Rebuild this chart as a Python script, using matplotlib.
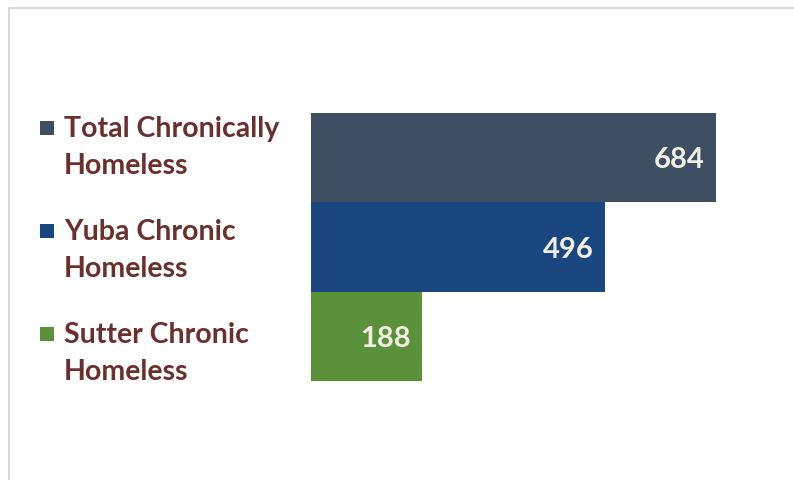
import matplotlib
matplotlib.use("Agg")
import matplotlib.pyplot as plt
from matplotlib.patches import Rectangle
from matplotlib.lines import Line2D

categories = ["Total Chronically\nHomeless", "Yuba Chronic\nHomeless", "Sutter Chronic\nHomeless"]
values = [684, 496, 188]
colors = ["#3F4F63", "#1A4780", "#5B913A"]

W, H = 794, 480
fig = plt.figure(figsize=(W / 100, H / 100), dpi=100)
fig.patch.set_facecolor("white")

FONT = "Lato"
TXT = "#6B2F2C"

# border lines (top and left)
fig.add_artist(Line2D([9 / W, 1], [1 - 8 / H, 1 - 8 / H], color="#D9D9D9", lw=1.5))
fig.add_artist(Line2D([9 / W, 9 / W], [0, 1 - 8 / H], color="#D9D9D9", lw=1.5))

# bar axes
x0, y_top, y_bot = 311, 113, 381
scale = 405 / 684.0
x1 = 790
ax = fig.add_axes([x0 / W, 1 - y_bot / H, (x1 - x0) / W, (y_bot - y_top) / H])
ypos = list(range(len(values)))
ax.barh(ypos, values, height=1.0, color=colors)
ax.set_ylim(len(values) - 0.5, -0.5)
ax.set_xlim(0, (x1 - x0) / scale)
ax.axis("off")
for y, v in zip(ypos, values):
    ax.annotate(str(v), xy=(v, y), xytext=(-8, -2), textcoords="offset points",
                ha="right", va="center", color="#F2EEE4", fontsize=21,
                fontweight="bold", family=FONT)

# legend
row_top = [116, 219, 322]
for top, lab, c in zip(row_top, categories, colors):
    fig.add_artist(Rectangle((40 / W, 1 - (top + 19) / H), 14 / W, 14 / H,
                             transform=fig.transFigure, facecolor=c, edgecolor="none"))
    fig.text(64 / W, 1 - top / H, lab, ha="left", va="top", fontsize=20.5,
             fontweight="bold", family=FONT, color=TXT, linespacing=1.52)

fig.savefig("out.png", dpi=100, facecolor="white")
